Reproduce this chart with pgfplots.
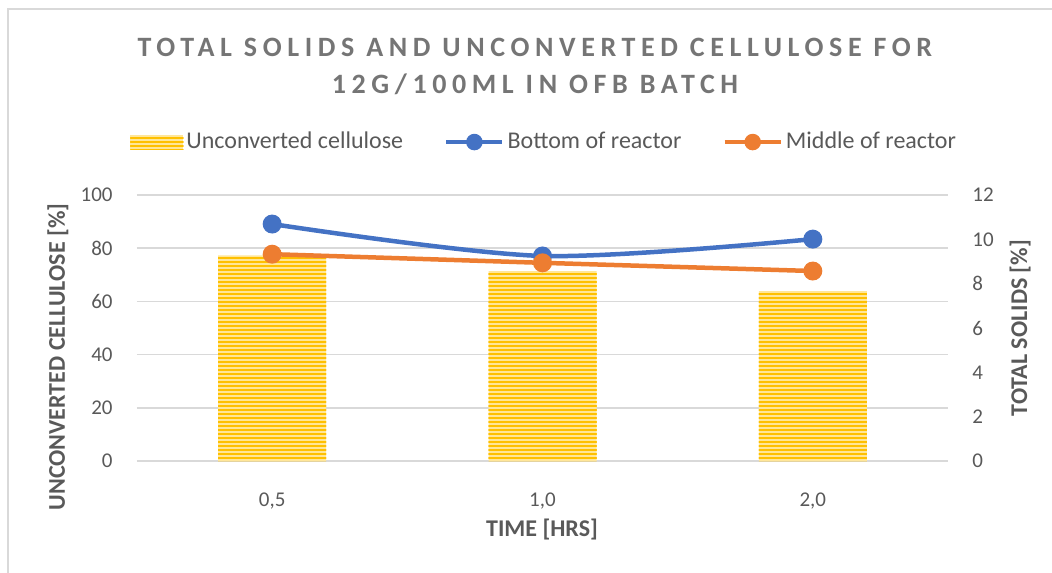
\documentclass[border=0pt]{standalone}
\usepackage{pgfplots}
\pgfplotsset{compat=1.18}
\usepackage{fontspec}
\setmainfont{Carlito}
\usetikzlibrary{patterns}

\definecolor{txt}{HTML}{595959}
\definecolor{ttl}{HTML}{757575}
\definecolor{gridc}{HTML}{D9D9D9}
\definecolor{bary}{HTML}{FFC000}
\definecolor{barl}{HTML}{FFE699}
\definecolor{blu}{HTML}{4472C4}
\definecolor{org}{HTML}{ED7D31}

% horizontal stripes, 2pt period
\pgfdeclarepatternformonly{hstripes}{\pgfpoint{-1pt}{-1pt}}{\pgfpoint{3pt}{3pt}}{\pgfpoint{2pt}{2pt}}{%
  \pgfsetlinewidth{1.25pt}%
  \pgfpathmoveto{\pgfpoint{-1pt}{1pt}}\pgfpathlineto{\pgfpoint{3pt}{1pt}}\pgfusepath{stroke}}

\tikzset{lbl/.style={font=\bfseries\fontsize{12}{14}\selectfont, text=txt, anchor=center}}

\pgfplotsset{
  common/.style={
    scale only axis, width=405.5pt, height=133pt,
    xmin=-0.5, xmax=2.5,
    axis line style={draw=none},
    tick style={draw=none},
    /pgf/number format/assume math mode=true,
    ticklabel style={font=\fontsize{10.5}{12}\selectfont, text=txt},
  },
  barstyle/.style={fill=barl, draw=none, postaction={pattern=hstripes, pattern color=bary}},
  patchlegend/.style={legend image code/.code={\path[##1] (0pt,-3.5pt) rectangle (26.5pt,3.5pt);}},
  linelegend/.style={legend image code/.code={%
    \draw[##1, mark size=3pt, mark repeat=2, mark phase=2] plot coordinates {(0pt,0pt) (14pt,0pt) (28pt,0pt)};}},
}

\begin{document}
\begin{tikzpicture}
\begin{axis}[
  common,
  ybar, bar width=54pt,
  ymin=0, ymax=100, ytick={0,20,...,100},
  xtick={0,1,2}, xticklabels={0{,}5,1{,}0,2{,}0},
  ymajorgrids, grid style={gridc, line width=0.75pt},
  yticklabel style={inner sep=0pt, anchor=east, xshift=-12pt},
  xticklabel style={inner sep=0pt, anchor=center, yshift=-15.5pt},
  xlabel={TIME [HRS]},
  ylabel={UNCONVERTED CELLULOSE [\%]},
  every axis x label/.style={at={(rel axis cs:0.4994,-0.2594)}, lbl},
  every axis y label/.style={at={(rel axis cs:-0.0974,0.391)}, lbl, rotate=90},
  title={TOTAL SOLIDS AND UNCONVERTED CELLULOSE FOR\\12G/100ML IN OFB BATCH},
  every axis title/.style={at={(rel axis cs:0.4907,1.483)}, anchor=center, align=center,
    font=\bfseries\fontsize{14}{18.5}\selectfont\addfontfeatures{LetterSpace=20}, text=ttl},
]
\addplot[barstyle] coordinates {(0,77.3) (1,71.4) (2,63.9)};
\end{axis}

\begin{axis}[
  common,
  ymin=0, ymax=12, ytick={0,2,...,12},
  axis x line=none,
  axis y line*=right,
  yticklabel style={inner sep=0pt, anchor=west, xshift=12pt},
  ylabel={TOTAL SOLIDS [\%]},
  every axis y label/.style={at={(rel axis cs:1.0888,0.5)}, lbl, rotate=90},
  legend columns=3,
  legend style={at={(rel axis cs:-0.0086,1.199)}, anchor=west, draw=none, fill=none,
    inner sep=0pt, font=\fontsize{12}{14}\selectfont, text=txt,
    nodes={inner xsep=1.5pt, inner ysep=1pt},
    /tikz/every even column/.append style={column sep=19pt}},
]
\addlegendimage{barstyle, patchlegend}
\addlegendentry{Unconverted cellulose}
\addplot[blu, line width=2.25pt, smooth, mark=*, mark size=3.6pt,
  mark options={draw=blu, fill=blu}, linelegend]
  coordinates {(0,10.69) (1,9.25) (2,10.01)};
\addlegendentry{Bottom of reactor}
\addplot[org, line width=2.25pt, mark=*, mark size=3.6pt,
  mark options={draw=org, fill=org}, linelegend]
  coordinates {(0,9.33) (1,8.94) (2,8.57)};
\addlegendentry{Middle of reactor}
\end{axis}

\draw[gridc, line width=0.75pt] (-64.5pt,-60pt) -- (-64.5pt,226pt) -- (460pt,226pt);
\pgfresetboundingbox
\path (-68.5pt,-55.5pt) rectangle (457.5pt,230.5pt);
\end{tikzpicture}
\end{document}
